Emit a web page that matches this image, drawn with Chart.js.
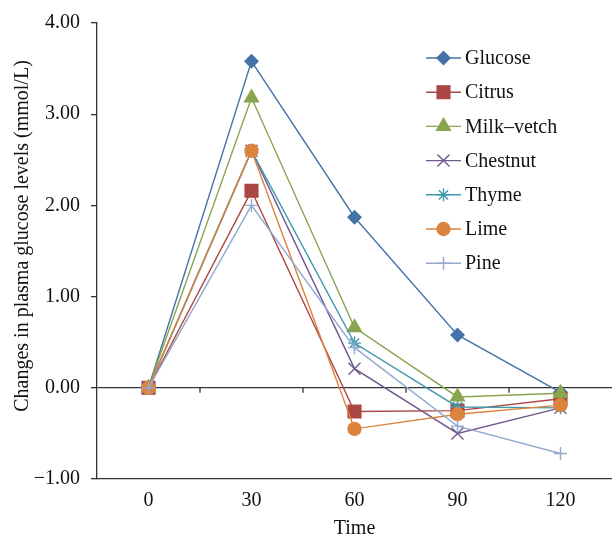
<!DOCTYPE html>
<html>
<head>
<meta charset="utf-8">
<script src="https://cdn.jsdelivr.net/npm/chart.js@4/dist/chart.umd.min.js"></script>
<style>
  body { margin: 0; background: #fff; }
  #wrap { width: 612px; height: 536px; }
</style>
</head>
<body>
<div id="wrap"><canvas id="chart-area" width="612" height="536"></canvas></div>
<script>
var timeLabels = ["0", "30", "60", "90", "120"];

var glucose   = [0, 3.58, 1.87, 0.58, -0.05];
var citrus    = [0, 2.16, -0.26, -0.25, -0.12];
var milkVetch = [0, 3.18, 0.66, -0.10, -0.06];
var chestnut  = [0, 2.60, 0.21, -0.50, -0.22];
var thyme     = [0, 2.60, 0.49, -0.21, -0.22];
var lime      = [0, 2.60, -0.45, -0.29, -0.19];
var pine      = [0, 2.00, 0.44, -0.42, -0.72];

var seriesNames = ["Glucose", "Citrus", "Milk\u2013vetch", "Chestnut", "Thyme", "Lime", "Pine"];
var seriesData = [glucose, citrus, milkVetch, chestnut, thyme, lime, pine];

var yTicks = [-1, 0, 1, 2, 3, 4];

function GetPalette() {
    return ["#4572A7", "#AA4643", "#89A54E", "#71588F", "#4198AF", "#DB843D", "#93A9CF"];
}
var markers = ["rectRot", "rect", "triangle", "crossRot", "star", "circle", "cross"];
var markerSize = [6.5, 9, 8, 8.5, 6.5, 6.5, 6.5];

var FONT = "'Liberation Serif', 'Times New Roman', serif";

var datasets = [];
for (var i = 0; i < seriesNames.length; i++) {
    var c = GetPalette()[i];
    datasets.push({
        label: seriesNames[i],
        data: seriesData[i],
        borderColor: c,
        backgroundColor: c,
        pointBackgroundColor: c,
        pointBorderColor: c,
        pointStyle: markers[i],
        pointRadius: markerSize[i],
        pointBorderWidth: 1.4,
        borderWidth: 1.4,
        tension: 0,
        order: seriesNames.length - i
    });
}

// legend drawn inside the plot, top right
var insideLegend = {
    id: "insideLegend",
    afterDraw: function (chart) {
        var ctx = chart.ctx;
        ctx.save();
        ctx.font = "20px " + FONT;
        ctx.textBaseline = "middle";
        for (var i = 0; i < datasets.length; i++) {
            var y = 58 + i * 34.2;
            var ds = datasets[i];
            ctx.strokeStyle = ds.borderColor;
            ctx.fillStyle = ds.borderColor;
            ctx.lineWidth = 1.4;
            ctx.beginPath();
            ctx.moveTo(426, y);
            ctx.lineTo(461, y);
            ctx.stroke();
            Chart.helpers.drawPoint(ctx, {
                pointStyle: ds.pointStyle,
                radius: ds.pointRadius,
                borderWidth: 1.4,
                rotation: 0
            }, 443.5, y);
            ctx.fillStyle = "#111";
            ctx.fillText(ds.label, 465, y + 1);
        }
        ctx.restore();
    },
    beforeDatasetsDraw: function (chart) {
        // small tick marks on the zero line between categories
        var x = chart.scales.x, y = chart.scales.y;
        var y0 = y.getPixelForValue(0);
        var ctx = chart.ctx;
        ctx.save();
        ctx.strokeStyle = "#333";
        ctx.lineWidth = 1.3;
        ctx.beginPath();
        for (var i = 0; i < timeLabels.length - 1; i++) {
            var px = (x.getPixelForTick(i) + x.getPixelForTick(i + 1)) / 2;
            ctx.moveTo(px, y0);
            ctx.lineTo(px, y0 + 5);
        }
        ctx.stroke();
        ctx.restore();
    }
};

var config = {
    type: "line",
    data: {
        labels: timeLabels,
        datasets: datasets
    },
    options: {
        responsive: false,
        animation: false,
        devicePixelRatio: 1,
        layout: { autoPadding: false, padding: { top: 21, right: 0, bottom: 0, left: 0 } },
        plugins: {
            legend: { display: false },
            tooltip: { enabled: false }
        },
        scales: {
            x: {
                offset: true,
                grid: { display: false, drawTicks: false },
                border: { display: true, color: "#333", width: 1.3 },
                ticks: { color: "#111", font: { family: FONT, size: 20 }, padding: 10 },
                title: { display: true, text: "Time", color: "#111", font: { family: FONT, size: 20, lineHeight: 0.75 }, padding: { top: 0, bottom: 0 } },
                afterFit: function (scale) {
                    scale.height = 57;
                    scale.paddingLeft = 0;
                    scale.paddingRight = 0;
                }
            },
            y: {
                min: -1,
                max: 4,
                afterBuildTicks: function (scale) {
                    scale.ticks = yTicks.map(function (v) { return { value: v }; });
                },
                grid: {
                    color: function (c) { return c.tick && c.tick.value === 0 ? "#333" : "rgba(0,0,0,0)"; },
                    lineWidth: 1.3,
                    tickColor: "#333",
                    tickLength: 6
                },
                border: { display: true, color: "#333", width: 1.3 },
                ticks: {
                    color: "#111",
                    font: { family: FONT, size: 20 },
                    padding: 11,
                    callback: function (v) { return Number(v).toFixed(2).replace("-", "\u2212"); }
                },
                title: { display: true, text: "      Changes in plasma glucose levels (mmol/L)", color: "#111", font: { family: FONT, size: 20, lineHeight: 1.2 }, padding: { top: 11, bottom: 0 } },
                afterFit: function (scale) { scale.width = 97; }
            }
        }
    },
    plugins: [insideLegend]
};

function CreateGraph() {
    var ctx = document.getElementById("chart-area").getContext("2d");
    window.myLine = new Chart(ctx, config);
}
CreateGraph();
</script>
</body>
</html>
